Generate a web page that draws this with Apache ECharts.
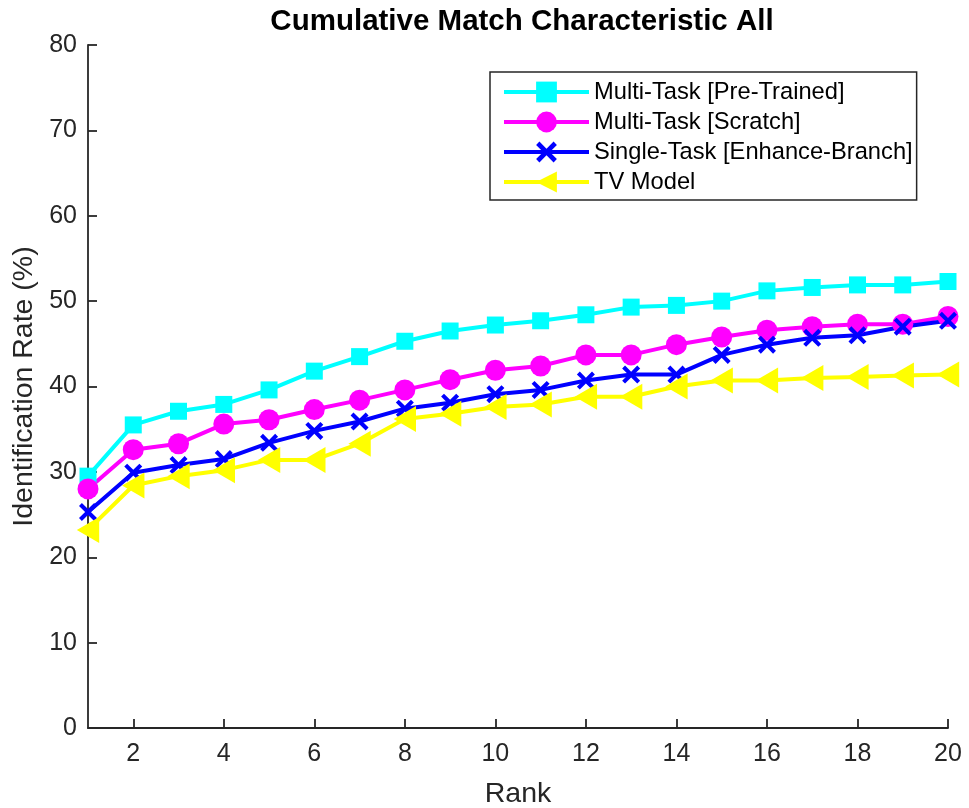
<!DOCTYPE html>
<html>
<head>
<meta charset="utf-8">
<script src="https://cdn.jsdelivr.net/npm/echarts@6/dist/echarts.min.js"></script>
<style>html,body{margin:0;padding:0;background:#fff}#c{width:969px;height:808px}</style>
</head>
<body>
<div id="c"></div>
<script>
const ranks = [1,2,3,4,5,6,7,8,9,10,11,12,13,14,15,16,17,18,19,20];
const pretrained = [29.5,35.5,37.1,37.9,39.6,41.8,43.5,45.3,46.5,47.2,47.7,48.4,49.3,49.5,50.0,51.2,51.6,51.9,51.9,52.3];
const scratch = [28.0,32.6,33.3,35.6,36.1,37.3,38.4,39.6,40.8,41.9,42.4,43.7,43.7,44.9,45.8,46.6,47.0,47.3,47.3,48.2];
const singleTask = [25.3,29.9,30.8,31.5,33.4,34.8,35.9,37.4,38.1,39.1,39.6,40.7,41.4,41.4,43.7,44.9,45.7,46.0,47.0,47.7];
const tvModel = [23.2,28.4,29.5,30.2,31.4,31.4,33.3,36.2,36.8,37.6,37.9,38.8,38.8,40.0,40.7,40.7,41.0,41.1,41.3,41.4];
const xTicks = [2,4,6,8,10,12,14,16,18,20];
const yTicks = [0,10,20,30,40,50,60,70,80];
const names = ['Multi-Task [Pre-Trained]','Multi-Task [Scratch]','Single-Task [Enhance-Branch]','TV Model'];

const FONT = 'Liberation Sans, Arial, Helvetica, sans-serif';
const AX = '#262626';
const xPath = 'path://M0,1.6 L1.6,0 L5,3.4 L8.4,0 L10,1.6 L6.6,5 L10,8.4 L8.4,10 L5,6.6 L1.6,10 L0,8.4 L3.4,5 Z';
const triLeft = 'path://M0,5 L8.6,0 L8.6,10 Z';

function mk(name, arr, color, symbol, size) {
  return {
    name: name, type: 'line',
    data: ranks.map((r, i) => [r, arr[i]]),
    symbol: symbol, symbolSize: size, symbolKeepAspect: true,
    showAllSymbol: true,
    lineStyle: { color: color, width: 4 },
    itemStyle: { color: color },
    emphasis: { disabled: true },
    animation: false
  };
}

const chart = echarts.init(document.getElementById('c'), null, { renderer: 'canvas' });
chart.setOption({
  backgroundColor: '#ffffff',
  animation: false,
  title: {
    text: 'Cumulative Match Characteristic All',
    left: 517, top: 2, textAlign: 'center',
    textStyle: { fontFamily: FONT, fontWeight: 'bold', fontSize: 29.5, color: '#000' }
  },
  grid: { left: 88, right: 21, top: 45, bottom: 80, containLabel: false, outerBoundsMode: 'none' },
  legend: {
    orient: 'vertical', left: 490, top: 72,
    data: names,
    itemWidth: 85, itemHeight: 26, itemGap: 4,
    padding: [7, 4, 5, 12],
    borderColor: AX, borderWidth: 1.5,
    backgroundColor: '#fff',
    lineStyle: { width: 4 },
    textStyle: { fontFamily: FONT, fontSize: 23.7, color: '#000', lineHeight: 26 }
  },
  xAxis: {
    type: 'value', min: 1, max: 20,
    name: 'Rank', nameLocation: 'middle', nameGap: 52,
    nameTextStyle: { fontFamily: FONT, fontSize: 28.5, color: AX },
    axisLine: { show: true, lineStyle: { color: AX, width: 1.8 } },
    axisTick: { show: true, inside: true, length: 9, customValues: xTicks, lineStyle: { color: AX, width: 1.8 } },
    axisLabel: { customValues: xTicks, fontFamily: FONT, fontSize: 25, color: AX, margin: 14 },
    splitLine: { show: false }
  },
  yAxis: {
    type: 'value', min: 0, max: 80, interval: 10,
    name: 'Identification Rate (%)', nameLocation: 'middle', nameGap: 49,
    nameTextStyle: { fontFamily: FONT, fontSize: 28.5, color: AX },
    axisLine: { show: true, lineStyle: { color: AX, width: 1.8 } },
    axisTick: { show: true, inside: true, length: 9, lineStyle: { color: AX, width: 1.8 } },
    axisLabel: { fontFamily: FONT, fontSize: 25, color: AX, margin: 11 },
    splitLine: { show: false }
  },
  series: [
    mk(names[0], pretrained, '#00FFFF', 'rect', 17),
    mk(names[1], scratch, '#FF00FF', 'circle', 21),
    mk(names[2], singleTask, '#0000FF', xPath, 18),
    mk(names[3], tvModel, '#FFFF00', triLeft, 26)
  ]
});
</script>
</body>
</html>
